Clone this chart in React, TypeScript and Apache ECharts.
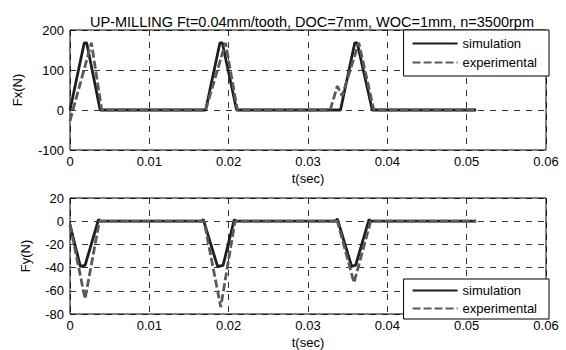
import React, { useEffect, useRef } from "react";
import * as echarts from "echarts";

const title = "UP-MILLING Ft=0.04mm/tooth, DOC=7mm, WOC=1mm, n=3500rpm";

// Fx (top panel)
const fxSimT = [0, 0.0018, 0.0021, 0.0038, 0.0171, 0.0189, 0.0192, 0.021, 0.0341, 0.0359, 0.0362, 0.0381, 0.0512];
const fxSimV = [0, 168, 168, 0, 0, 168, 168, 0, 0, 168, 168, 0, 0];
const fxExpT = [0, 0.0027, 0.004, 0.0171, 0.0196, 0.0211, 0.0328, 0.0337, 0.0343, 0.0364, 0.0383, 0.0512];
const fxExpV = [-27, 168, 0, 0, 168, 0, 0, 60, 35, 168, 0, 0];

// Fy (bottom panel)
const fySimT = [0, 0.0013, 0.0019, 0.0036, 0.0038, 0.0166, 0.0168, 0.0186, 0.0193, 0.0207, 0.0209, 0.0335, 0.0337, 0.0355, 0.036, 0.0377, 0.0379, 0.0512];
const fySimV = [-3, -39, -38, 1.5, 0, 0, 1.5, -39, -38, 1.5, 0, 0, 2, -39, -38, 1.5, 0, 0];
const fyExpT = [0, 0.0019, 0.0037, 0.0169, 0.019, 0.0208, 0.0334, 0.0336, 0.0358, 0.0379, 0.0512];
const fyExpV = [-3, -67, 0, 0, -74, 0, 0, 2.5, -53, 0, 0];

const legendNames = ["simulation", "experimental"];

const zip = (t: number[], v: number[]) => t.map((x, i) => [x, v[i]]);

const FONT = "'Liberation Sans', Arial, sans-serif";

export default function App() {
  const ref = useRef<HTMLDivElement>(null);
  useEffect(() => {
    if (!ref.current) return;
    const chart = echarts.init(ref.current, undefined, { renderer: "svg" });
    const splitLine = { show: true, lineStyle: { color: "#000", type: [6, 6], width: 0.8 } };
    const xAxisBase = (gridIndex: number) => ({
      type: "value" as const,
      gridIndex,
      min: 0,
      max: 0.06,
      interval: 0.01,
      name: "t(sec)",
      nameLocation: "middle" as const,
      nameGap: 22,
      nameTextStyle: { color: "#000", fontSize: 13, fontFamily: FONT },
      axisLine: { show: false },
      axisTick: { show: false },
      axisLabel: {
        color: "#000",
        fontSize: 13,
        fontFamily: FONT,
        margin: 5,
        formatter: (v: number) => (v === 0 ? "0" : v.toFixed(2)),
      },
      splitLine,
    });
    const simStyle = { color: "#1e1e1e", width: 2.8 };
    const expStyle = { color: "#5a5a5a", width: 2.8, type: [8, 3] };
    const legendBase = {
      orient: "vertical" as const,
      right: 17,
      backgroundColor: "#fff",
      borderColor: "#000",
      borderWidth: 1,
      borderRadius: 0,
      itemWidth: 45,
      itemHeight: 14,
      itemStyle: { opacity: 0 },
      textStyle: { color: "#000", fontSize: 13, fontFamily: FONT },
      data: legendNames,
    };
    chart.setOption({
      animation: false,
      backgroundColor: "#fff",
      title: {
        text: title,
        left: 307,
        top: 9,
        textAlign: "center",
        textStyle: { color: "#000", fontSize: 14.5, fontWeight: "normal", fontFamily: FONT },
      },
      grid: [
        { left: 70, right: 20, top: 30, height: 120, show: true, borderColor: "#000", borderWidth: 1, backgroundColor: "transparent" },
        { left: 70, right: 20, top: 198, height: 123, show: true, borderColor: "#000", borderWidth: 1, backgroundColor: "transparent" },
      ],
      xAxis: [xAxisBase(0), xAxisBase(1)],
      yAxis: [
        {
          type: "value",
          gridIndex: 0,
          min: -100,
          max: 200,
          interval: 100,
          name: "Fx(N)",
          nameLocation: "middle",
          nameGap: 46,
          nameTextStyle: { color: "#000", fontSize: 13, fontFamily: FONT },
          axisLine: { show: false },
          axisTick: { show: false },
          axisLabel: { color: "#000", fontSize: 13, fontFamily: FONT, margin: 6 },
          splitLine,
        },
        {
          type: "value",
          gridIndex: 1,
          min: -80,
          max: 20,
          interval: 20,
          name: "Fy(N)",
          nameLocation: "middle",
          nameGap: 38,
          nameTextStyle: { color: "#000", fontSize: 13, fontFamily: FONT },
          axisLine: { show: false },
          axisTick: { show: false },
          axisLabel: { color: "#000", fontSize: 13, fontFamily: FONT, margin: 6 },
          splitLine,
        },
      ],
      legend: [
        { ...legendBase, top: 30, padding: [7, 12, 7, 8], itemGap: 6 },
        { ...legendBase, top: 279, padding: [5, 12, 4, 8], itemGap: 5 },
      ],
      series: [
        { name: "simulation", type: "line", xAxisIndex: 0, yAxisIndex: 0, data: zip(fxSimT, fxSimV), showSymbol: false, symbol: "none", lineStyle: simStyle, itemStyle: { color: simStyle.color } },
        { name: "experimental", type: "line", xAxisIndex: 0, yAxisIndex: 0, data: zip(fxExpT, fxExpV), showSymbol: false, symbol: "none", lineStyle: expStyle, itemStyle: { color: expStyle.color } },
        { name: "simulation", type: "line", xAxisIndex: 1, yAxisIndex: 1, data: zip(fySimT, fySimV), showSymbol: false, symbol: "none", lineStyle: simStyle, itemStyle: { color: simStyle.color } },
        { name: "experimental", type: "line", xAxisIndex: 1, yAxisIndex: 1, data: zip(fyExpT, fyExpV), showSymbol: false, symbol: "none", lineStyle: expStyle, itemStyle: { color: expStyle.color } },
      ],
    });
    return () => chart.dispose();
  }, []);
  return <div ref={ref} style={{ width: 566, height: 350, position: "absolute", left: 0, top: 0 }} />;
}
